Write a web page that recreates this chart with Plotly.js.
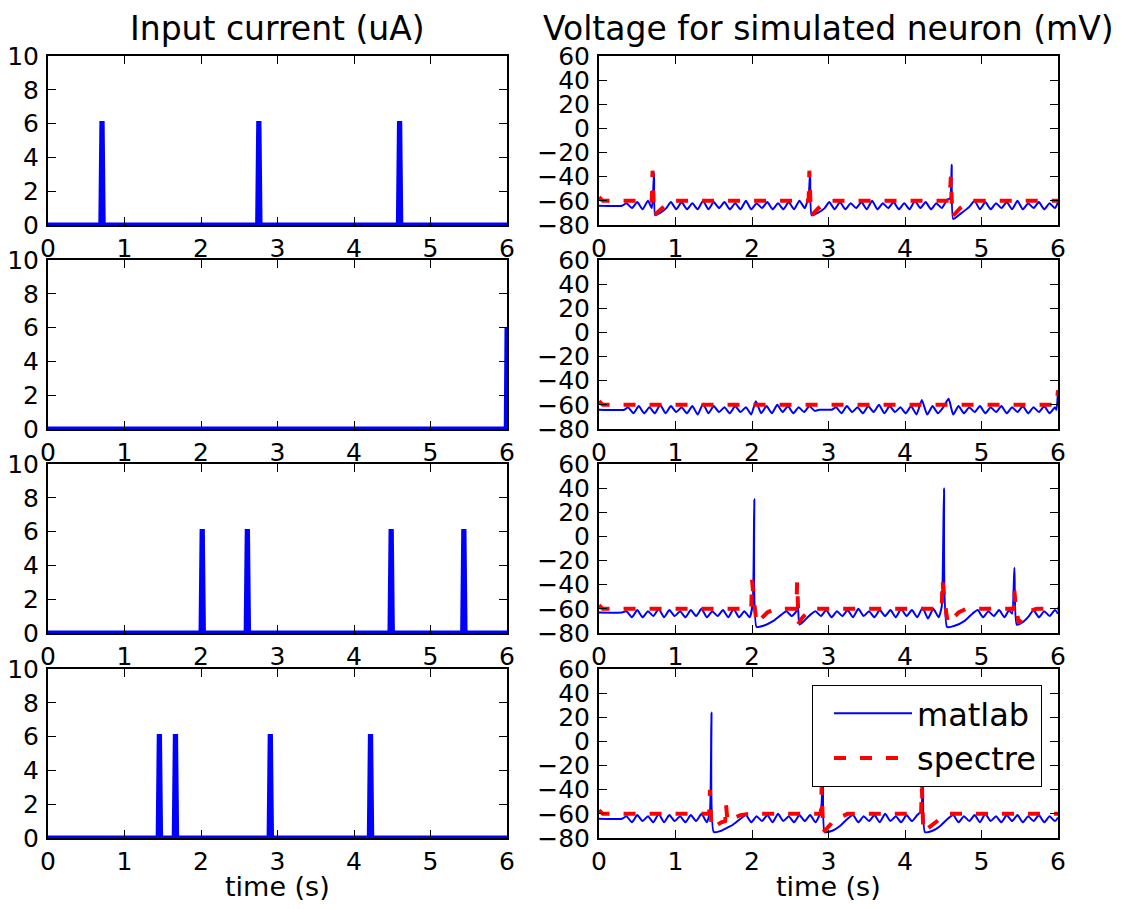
<!DOCTYPE html>
<html>
<head>
<meta charset="utf-8">
<script src="https://cdn.plot.ly/plotly-3.0.1.min.js"></script>
<style>html,body{margin:0;padding:0;background:#fff;}</style>
</head>
<body>
<div id="chart" style="width:1127px;height:909px;"></div>
<script>
// ---------- DATA ----------
// Input current pulses (onset time in s), amplitude in uA
const pulseAmp = 6;
const pulseRise = 0.014;
const pulseHold = 0.004;
const pulses1 = [0.69, 2.74, 4.58];
const pulses3 = [2.00, 2.59, 4.47, 5.42];
const pulses4 = [1.44, 1.65, 2.89, 4.20];
const cur2T = [0, 5.99, 6.0];
const cur2V = [0, 0, 6];

// Voltage, matlab (mV)
const m1T = [0,0.30,0.36,0.43,0.50,0.57,0.64,0.69,0.72,0.735,0.80,0.88,0.94,1.01,1.08,1.15,1.22,1.29,1.36,1.43,1.50,1.57,1.64,1.71,1.78,1.85,1.92,1.99,2.06,2.13,2.20,2.27,2.34,2.41,2.48,2.55,2.62,2.69,2.74,2.76,2.78,2.86,2.95,3.01,3.08,3.15,3.22,3.29,3.36,3.43,3.50,3.57,3.64,3.71,3.78,3.85,3.92,3.99,4.06,4.13,4.20,4.27,4.34,4.41,4.48,4.55,4.59,4.61,4.63,4.72,4.84,4.91,4.98,5.05,5.12,5.19,5.26,5.33,5.40,5.47,5.54,5.61,5.68,5.75,5.82,5.89,5.96,6.0];
const m1V = [-64,-64,-62,-66,-61,-67,-60,-66,-37,-72,-70,-66,-61,-67,-61,-67,-62,-67,-60,-67,-61,-66,-61,-67,-62,-67,-60,-67,-62,-66,-61,-67,-62,-67,-61,-67,-60,-66,-56,-37,-72,-70,-66,-61,-67,-61,-67,-62,-66,-61,-67,-60,-67,-62,-66,-61,-67,-62,-67,-60,-66,-61,-67,-62,-66,-59,-58,-30,-75,-71,-65,-60,-67,-61,-67,-62,-66,-61,-67,-60,-67,-62,-66,-61,-67,-62,-66,-61];

const m2T = [0,0.33,0.38,0.45,0.52,0.59,0.66,0.73,0.80,0.87,0.94,1.01,1.08,1.15,1.22,1.29,1.36,1.43,1.50,1.57,1.64,1.71,1.78,1.85,1.92,1.99,2.05,2.12,2.19,2.26,2.33,2.40,2.47,2.54,2.61,2.68,2.75,2.82,2.88,3.04,3.10,3.17,3.24,3.31,3.38,3.45,3.52,3.59,3.66,3.73,3.80,3.87,3.94,4.01,4.08,4.15,4.22,4.29,4.36,4.43,4.50,4.57,4.63,4.70,4.77,4.84,4.91,4.98,5.05,5.12,5.19,5.26,5.33,5.40,5.47,5.54,5.61,5.68,5.75,5.82,5.89,5.96,5.98,6.0];
const m2V = [-64,-64,-62,-67,-61,-67,-62,-67,-60,-67,-61,-66,-62,-67,-61,-68,-59,-67,-61,-66,-62,-67,-61,-66,-62,-68,-57,-67,-61,-67,-60,-66,-61,-67,-62,-66,-61,-65,-64,-64,-62,-67,-61,-66,-62,-67,-61,-66,-60,-67,-61,-66,-62,-67,-61,-68,-56,-68,-61,-67,-62,-55,-68,-61,-67,-62,-66,-61,-67,-62,-66,-61,-67,-62,-66,-61,-67,-62,-66,-61,-67,-62,-64,-48];

const m3T = [0,0.30,0.36,0.43,0.50,0.57,0.64,0.71,0.78,0.85,0.92,0.99,1.06,1.13,1.20,1.27,1.34,1.41,1.48,1.55,1.62,1.69,1.76,1.83,1.90,1.97,2.01,2.03,2.06,2.15,2.28,2.38,2.45,2.52,2.58,2.60,2.62,2.68,2.76,2.83,2.90,2.97,3.04,3.11,3.18,3.25,3.32,3.39,3.46,3.53,3.60,3.67,3.74,3.81,3.88,3.95,4.02,4.09,4.16,4.23,4.30,4.37,4.44,4.48,4.51,4.55,4.65,4.78,4.88,4.95,5.02,5.09,5.16,5.23,5.30,5.36,5.40,5.43,5.46,5.54,5.62,5.68,5.75,5.82,5.89,5.96,6.0];
const m3V = [-63,-63,-62,-67,-61,-67,-62,-66,-60,-67,-61,-66,-62,-67,-61,-66,-60,-67,-62,-66,-61,-67,-60,-67,-62,-67,-55,31,-75,-74,-70,-65,-62,-66,-62,-57,-73,-70,-65,-62,-66,-61,-67,-62,-66,-61,-67,-60,-66,-62,-67,-61,-66,-61,-67,-60,-66,-61,-67,-59,-68,-60,-67,-58,40,-75,-74,-70,-64,-61,-67,-62,-66,-61,-67,-61,-64,-26,-73,-71,-66,-61,-67,-62,-66,-61,-64];

const m4T = [0,0.30,0.36,0.43,0.50,0.57,0.64,0.71,0.78,0.85,0.92,0.99,1.06,1.13,1.20,1.27,1.34,1.41,1.45,1.47,1.50,1.60,1.66,1.75,1.85,1.92,1.99,2.06,2.13,2.20,2.27,2.34,2.41,2.48,2.55,2.62,2.69,2.76,2.83,2.90,2.93,2.95,3.05,3.15,3.25,3.32,3.39,3.46,3.53,3.60,3.67,3.74,3.81,3.88,3.95,4.02,4.09,4.16,4.21,4.24,4.26,4.36,4.46,4.56,4.63,4.70,4.77,4.84,4.91,4.98,5.05,5.12,5.19,5.26,5.33,5.40,5.47,5.54,5.61,5.68,5.75,5.82,5.89,5.96,6.0];
const m4V = [-64,-64,-62,-67,-61,-66,-62,-67,-60,-67,-61,-66,-62,-67,-61,-66,-60,-67,-58,24,-75,-74,-72,-69,-64,-61,-67,-62,-66,-61,-67,-60,-66,-62,-67,-61,-66,-61,-67,-58,-20,-75,-74,-70,-64,-61,-67,-62,-66,-61,-67,-60,-66,-62,-67,-61,-66,-61,-58,-10,-75,-74,-70,-64,-61,-67,-62,-66,-61,-67,-60,-66,-62,-67,-61,-66,-61,-67,-62,-66,-61,-67,-62,-66,-63];

// Voltage, spectre (mV)
const s1T = [0,0.05,0.69,0.70,0.72,0.76,0.82,0.90,1.0,2.74,2.75,2.77,2.81,2.87,2.95,3.05,4.58,4.60,4.62,4.66,4.72,4.80,4.90,6.0];
const s1V = [-57,-60,-60,-35,-72,-70,-66,-62,-60,-60,-35,-72,-70,-66,-62,-60,-60,-40,-73,-70,-66,-62,-60,-60];
const s2T = [0,0.05,5.98,6.0];
const s2V = [-57,-60,-60,-48];
const s3T = [0,0.05,1.99,2.00,2.02,2.06,2.12,2.20,2.30,2.58,2.59,2.61,2.65,2.72,2.80,4.48,4.49,4.51,4.56,4.62,4.70,4.80,5.42,5.43,5.45,5.49,5.55,5.62,5.72,6.0];
const s3V = [-57,-60,-60,-36,-50,-72,-68,-63,-60,-60,-38,-72,-68,-63,-60,-60,-36,-50,-72,-68,-63,-60,-60,-45,-60,-72,-67,-62,-60,-60];
const s4T = [0,0.05,1.44,1.45,1.47,1.52,1.60,1.65,1.66,1.68,1.75,1.85,1.95,2.90,2.91,2.93,2.98,3.05,3.15,3.25,4.21,4.22,4.24,4.30,4.38,4.48,4.58,6.0];
const s4V = [-57,-60,-60,-40,-72,-70,-67,-66,-52,-66,-64,-61,-60,-60,-38,-75,-72,-67,-63,-60,-60,-38,-75,-72,-67,-63,-60,-60];

const xTicks = [0,1,2,3,4,5,6];
const curTicks = [0,2,4,6,8,10];
const voltTicks = [-80,-60,-40,-20,0,20,40,60];
const colTitles = ["Input current (uA)", "Voltage for simulated neuron (mV)"];
const xLabel = "time (s)";
const seriesNames = ["matlab", "spectre"];

// ---------- BUILD ----------
function pulseTrain(onsets) {
  const t = [0], v = [0];
  onsets.forEach(p => {
    t.push(p, p + pulseRise, p + pulseRise + pulseHold, p + 2 * pulseRise + pulseHold);
    v.push(0, pulseAmp, pulseAmp, 0);
  });
  t.push(6); v.push(0);
  return {t, v};
}
const cur = [pulseTrain(pulses1), {t: cur2T, v: cur2V}, pulseTrain(pulses3), pulseTrain(pulses4)];
const mat = [[m1T,m1V],[m2T,m2V],[m3T,m3V],[m4T,m4V]];
const spe = [[s1T,s1V],[s2T,s2V],[s3T,s3V],[s4T,s4V]];

const W = 1127, H = 909;
const colPx = [[48, 507], [599, 1058]];
const rowPx = [[56, 225], [260, 429], [464, 633], [669, 838]];
const font = "DejaVu Sans, sans-serif";

const traces = [];
const layout = {
  width: W, height: H,
  margin: {l: 0, r: 0, t: 0, b: 0},
  paper_bgcolor: "#fff", plot_bgcolor: "#fff",
  font: {family: font, size: 25, color: "#000"},
  showlegend: true,
  legend: {
    x: 1042 / W, xanchor: "right", y: 1 - 685 / H, yanchor: "top",
    bgcolor: "#fff", bordercolor: "#000", borderwidth: 1,
    font: {family: font, size: 32, color: "#000"},
    itemwidth: 78, indentation: 16, tracegroupgap: 0
  },
  annotations: []
};

for (let r = 0; r < 4; r++) {
  for (let c = 0; c < 2; c++) {
    const n = r * 2 + c + 1;
    const xa = n === 1 ? "x" : "x" + n;
    const ya = n === 1 ? "y" : "y" + n;
    const xk = n === 1 ? "xaxis" : "xaxis" + n;
    const yk = n === 1 ? "yaxis" : "yaxis" + n;
    const common = {
      showline: true, linecolor: "#000", linewidth: 2, mirror: "ticks",
      ticks: "inside", ticklen: 8, tickwidth: 1, tickcolor: "#000",
      showgrid: false, zeroline: false, fixedrange: true,
      tickfont: {family: font, size: 25, color: "#000"}
    };
    layout[xk] = Object.assign({}, common, {
      domain: [colPx[c][0] / W, colPx[c][1] / W],
      range: [0, 6], tickvals: xTicks, ticktext: xTicks.map(String),
      anchor: ya, ticklabelstandoff: 0
    });
    layout[yk] = Object.assign({}, common, {
      domain: [1 - rowPx[r][1] / H, 1 - rowPx[r][0] / H],
      range: c === 0 ? [0, 10] : [-80, 60],
      tickvals: c === 0 ? curTicks : voltTicks,
      anchor: xa, ticklabelstandoff: 2
    });
    if (c === 0) {
      traces.push({
        x: cur[r].t, y: cur[r].v, xaxis: xa, yaxis: ya, type: "scatter", mode: "lines",
        line: {color: "#0000ff", width: 5}, showlegend: false, hoverinfo: "skip"
      });
    } else {
      traces.push({
        x: mat[r][0], y: mat[r][1], xaxis: xa, yaxis: ya, type: "scatter", mode: "lines",
        name: seriesNames[0], line: {color: "#0000ff", width: 2, shape: "spline", smoothing: 0.5},
        showlegend: r === 3, hoverinfo: "skip"
      });
      traces.push({
        x: spe[r][0], y: spe[r][1], xaxis: xa, yaxis: ya, type: "scatter", mode: "lines",
        name: seriesNames[1], line: {color: "#ff0000", width: 4, dash: "12px,14px"},
        showlegend: r === 3, hoverinfo: "skip"
      });
    }
  }
}

colTitles.forEach((t, c) => {
  layout.annotations.push({
    text: t, xref: "paper", yref: "paper", showarrow: false,
    x: (colPx[c][0] + colPx[c][1]) / 2 / W, y: 1 - 28 / H,
    xanchor: "center", yanchor: "middle",
    font: {family: font, size: 33, color: "#000"}
  });
  layout.annotations.push({
    text: xLabel, xref: "paper", yref: "paper", showarrow: false,
    x: (colPx[c][0] + colPx[c][1]) / 2 / W, y: 1 - 886 / H,
    xanchor: "center", yanchor: "middle",
    font: {family: font, size: 27, color: "#000"}
  });
});

Plotly.newPlot("chart", traces, layout, {staticPlot: true, displayModeBar: false});
</script>
</body>
</html>
